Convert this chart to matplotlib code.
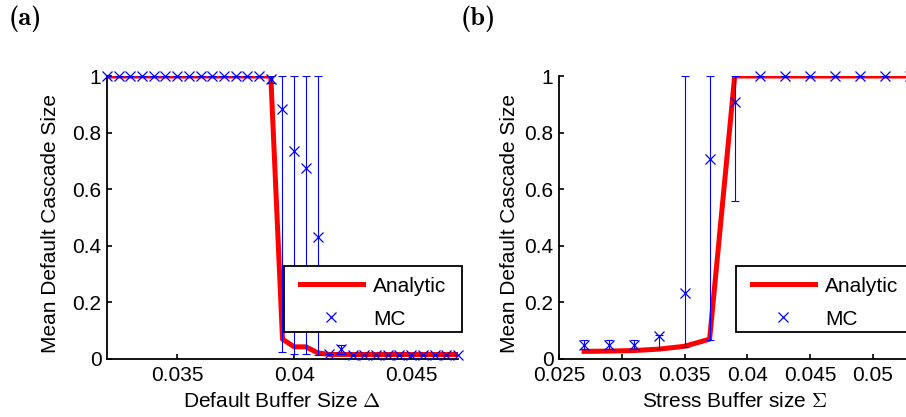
import matplotlib
matplotlib.use("Agg")
import matplotlib.pyplot as plt
from matplotlib.patches import Rectangle

plt.rcParams['font.family'] = ['Liberation Sans', 'DejaVu Sans']
plt.rcParams['mathtext.fontset'] = 'cm'

# ---------------------------------------------------------------------------
# (a) default buffer size sweep
# ---------------------------------------------------------------------------
delta = [0.032, 0.0325, 0.033, 0.0335, 0.034, 0.0345, 0.035, 0.0355, 0.036,
         0.0365, 0.037, 0.0375, 0.038, 0.0385, 0.039, 0.0395, 0.040, 0.0405,
         0.041, 0.0415, 0.042, 0.0425, 0.043, 0.0435, 0.044, 0.0445, 0.045,
         0.0455, 0.046, 0.0465, 0.047]
analytic_a = [1, 1, 1, 1, 1, 1, 1, 1, 1, 1, 1, 1, 1, 1, 1,
              0.07, 0.043, 0.043, 0.022, 0.016, 0.016, 0.016, 0.016, 0.016,
              0.016, 0.016, 0.016, 0.016, 0.016, 0.016, 0.016]
mc_a = [1, 1, 1, 1, 1, 1, 1, 1, 1, 1, 1, 1, 1, 1, 0.99,
        0.882, 0.735, 0.676, 0.43, 0.017, 0.035, 0.015, 0.015, 0.015,
        0.015, 0.015, 0.015, 0.015, 0.015, 0.015, 0.015]
mc_a_lo = [1, 1, 1, 1, 1, 1, 1, 1, 1, 1, 1, 1, 1, 1, 0.975,
           0.025, 0.018, 0.018, 0.015, 0.017, 0.018, 0.015, 0.015, 0.015,
           0.015, 0.015, 0.015, 0.015, 0.015, 0.015, 0.015]
mc_a_hi = [1, 1, 1, 1, 1, 1, 1, 1, 1, 1, 1, 1, 1, 1, 1,
           1, 1, 1, 1, 0.017, 0.048, 0.015, 0.015, 0.015,
           0.015, 0.015, 0.015, 0.015, 0.015, 0.015, 0.015]
xticks_a = [0.035, 0.04, 0.045]
xticklabels_a = ['0.035', '0.04', '0.045']

# ---------------------------------------------------------------------------
# (b) stress buffer size sweep
# ---------------------------------------------------------------------------
sigma = [0.027, 0.029, 0.031, 0.033, 0.035, 0.037, 0.039, 0.041, 0.043,
         0.045, 0.047, 0.049, 0.051, 0.053]
analytic_b = [0.027, 0.028, 0.030, 0.035, 0.045, 0.07, 1, 1, 1, 1, 1, 1, 1, 1]
mc_b = [0.05, 0.05, 0.05, 0.082, 0.233, 0.705, 0.907, 1, 1, 1, 1, 1, 1, 1]
mc_b_lo = [0.035, 0.035, 0.035, 0.035, 0.041, 0.068, 0.558, 1, 1, 1, 1, 1, 1, 1]
mc_b_hi = [0.068, 0.068, 0.068, 0.085, 1, 1, 1, 1, 1, 1, 1, 1, 1, 1]
xticks_b = [0.025, 0.03, 0.035, 0.04, 0.045, 0.05]
xticklabels_b = ['0.025', '0.03', '0.035', '0.04', '0.045', '0.05']

yticks = [0, 0.2, 0.4, 0.6, 0.8, 1]
yticklabels = ['0', '0.2', '0.4', '0.6', '0.8', '1']

FS = 15
W, H = 906, 417
fig = plt.figure(figsize=(W / 100, H / 100), dpi=100)


def panel(left, width, x, analytic, mc, lo, hi, xlim, xt, xtl, xlabel, ylab_x):
    bottom, height = 359, 283  # pixels from the top of the figure / tall
    ax = fig.add_axes([left / W, 1 - bottom / H, width / W, height / H])
    ax.plot(x, analytic, color='red', lw=3.6, label='Analytic', zorder=2)
    yerr = [[m - l for m, l in zip(mc, lo)], [h - m for m, h in zip(mc, hi)]]
    ax.errorbar(x, mc, yerr=yerr, fmt='none', ecolor='blue', elinewidth=0.8,
                capsize=2.6, capthick=0.8, zorder=3)
    ax.plot(x, mc, ls='none', marker='x', ms=6.5, mew=0.9, color='blue',
            label='MC', zorder=4, clip_on=False)
    ax.set_xlim(*xlim)
    ax.set_ylim(0, 1)
    ax.set_xticks(xt)
    ax.set_xticklabels(xtl)
    ax.set_yticks(yticks)
    ax.set_yticklabels(yticklabels)
    for s in ('top', 'right'):
        ax.spines[s].set_visible(False)
    for s in ('left', 'bottom'):
        ax.spines[s].set_linewidth(1.3)
    ax.tick_params(direction='in', length=3.5, width=1.2, labelsize=FS)
    ax.tick_params(axis='x', pad=5)
    ax.tick_params(axis='y', pad=4)
    ax.set_xlabel(xlabel, fontsize=FS, labelpad=5)
    ax.set_ylabel('Mean Default Cascade Size', fontsize=FS, va='center')
    ax.yaxis.set_label_coords(ylab_x, 0.48)

    # legend box drawn by hand (MATLAB style padding), entries placed inside
    bx0, bx1 = 177 / width, 354.7 / width
    by0, by1 = 26.7 / height, 93 / height
    ax.add_patch(Rectangle((bx0, by0), bx1 - bx0, by1 - by0,
                           transform=ax.transAxes, facecolor='white',
                           edgecolor='black', lw=1.3, clip_on=False, zorder=5))
    leg = ax.legend(loc='upper left', bbox_to_anchor=(193 / width, 82.5 / height),
                    borderaxespad=0, borderpad=0, fontsize=FS,
                    handlelength=3.0, handletextpad=0.5, labelspacing=0.68,
                    frameon=False)
    leg.set_zorder(6)
    return ax


panel(107, 351, delta, analytic_a, mc_a, mc_a_lo, mc_a_hi, (0.032, 0.047),
      xticks_a, xticklabels_a, 'Default Buffer Size $\\Delta$', -0.162)
panel(559, 351.4, sigma, analytic_b, mc_b, mc_b_lo, mc_b_hi, (0.025, 0.053),
      xticks_b, xticklabels_b, 'Stress Buffer size $\\Sigma$', -0.141)

fig.text(9 / W, 1 - 25 / H, '(a)', family='cmb10', fontsize=19, va='baseline')
fig.text(461 / W, 1 - 25 / H, '(b)', family='cmb10', fontsize=19, va='baseline')

fig.savefig('out.png', dpi=100)
